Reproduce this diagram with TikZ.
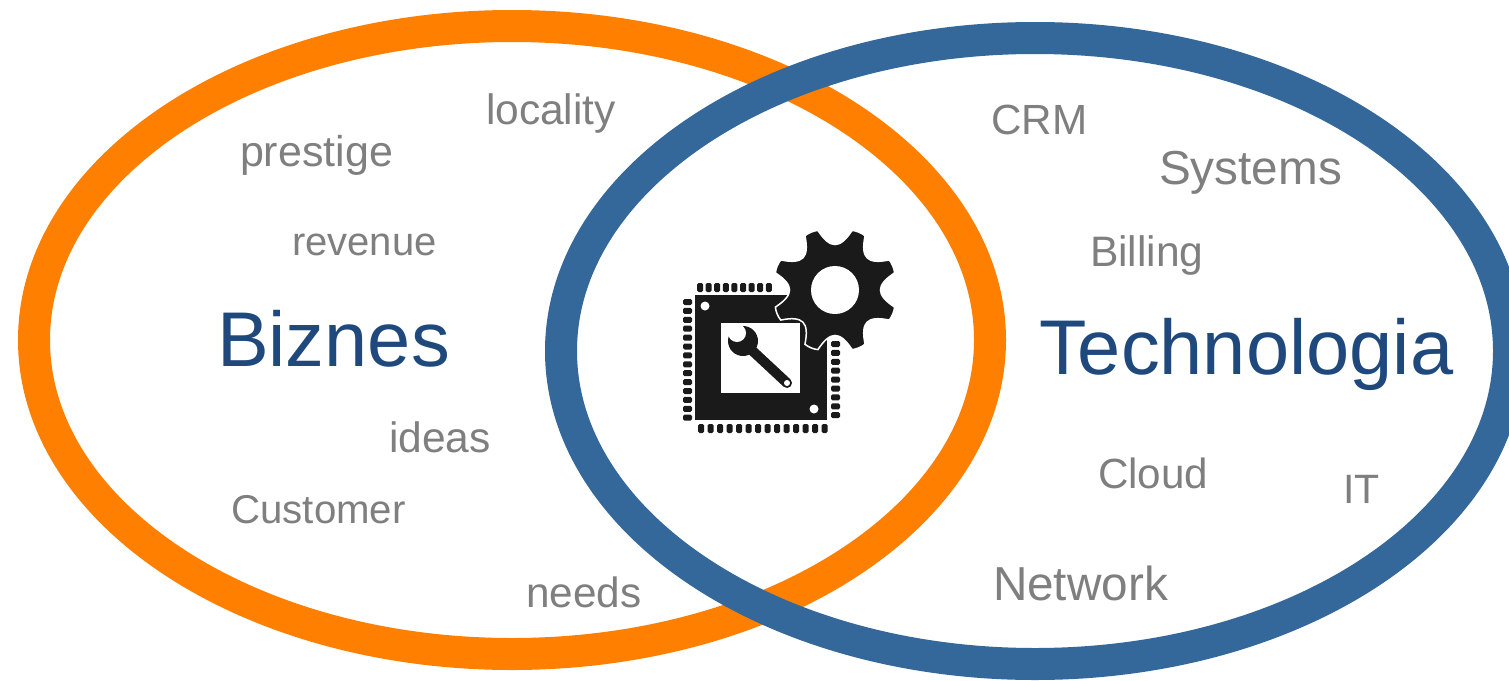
\documentclass[tikz,border=0pt]{standalone}
\usepackage{fontspec}
\setmainfont{Liberation Sans}
\definecolor{orangering}{HTML}{FF8000}
\definecolor{bluering}{HTML}{34679A}
\definecolor{titleblue}{HTML}{1F497D}
\definecolor{wordgray}{HTML}{7F7F7F}
\definecolor{iconblack}{HTML}{1A1A1A}
\tikzset{
  ring/.style={draw=#1,line width=32pt,fill=none},
  word/.style={anchor=base west,inner sep=0pt,outer sep=0pt,text=wordgray,font=\fontsize{#1}{#1}\selectfont},
  title/.style={anchor=base west,inner sep=0pt,outer sep=0pt,text=titleblue,font=\fontsize{77.6}{77.6}\selectfont},
  pin/.style={fill=iconblack,rounded corners=1.5pt}
}
\begin{document}
\begin{tikzpicture}[x=1pt,y=-1pt]
\useasboundingbox (0,0) rectangle (1509,680);
\clip (0,0) rectangle (1509,680);
\fill[white] (0,0) rectangle (1509,680);
\draw[ring=orangering] (512,340) ellipse [x radius=478,y radius=314];
\draw[ring=bluering] (1035,351) ellipse [x radius=474,y radius=313];
% words
\node[word=43] (prestige) at (240,166.5) {prestige};
\node[word=42.5] (locality) at (486,124.5) {locality};
\node[word=40] (revenue) at (292,255) {revenue};
\node[word=42.5] (ideas) at (389,452) {ideas};
\node[word=40.2] (customer) at (231.5,523) {Customer};
\node[word=42.3] (needs) at (526,607) {needs};
\node[word=42.2] (crm) at (991.5,134) {CRM};
\node[word=47.7] (systems) at (1159,184.5) {Systems};
\node[word=42.6] (billing) at (1090,266.5) {Billing};
\node[word=42.2] (cloud) at (1098,488) {Cloud};
\node[word=41] (it) at (1343,503) {IT};
\node[word=47.7] (network) at (993,600) {Network};
\node[title] (biznes) at (217,366) {Biznes};
\node[title] (technologia) at (1039,374) {Technologia};
% chip icon
\fill[iconblack] (695,295) rectangle (827,420);
\fill[white] (721,323) rectangle (800,393);
\fill[white] (705,306) circle (4.5);
\fill[white] (814,409) circle (4.5);
\foreach \i in {0,...,8} \fill[pin] ({700+\i*8.6-3},283) rectangle ++(6,9);
\foreach \i in {0,...,13} \fill[pin] ({701+\i*9.5-3},424) rectangle ++(6,9);
\foreach \i in {0,...,13} \fill[pin] (683,{302+\i*8.9-3}) rectangle ++(9,6);
\foreach \i in {0,...,8} \fill[pin] (831,{344+\i*8.9-3}) rectangle ++(9,6);
% wrench
\draw[iconblack,line width=10pt,line cap=round] (743,342) -- (787,383);
\fill[iconblack] (743,341) circle (15);
\fill[white] (737,333) circle (9);
\fill[white] (737,333) -- (722,331) -- (733,323) -- cycle;
\fill[white] (787,383) circle (3);
% gear
\begin{scope}[shift={(835,290)}]
\draw[fill=iconblack,draw=white,line width=1.5pt]
  (16:62) \foreach \a in {22.5,67.5,...,337.5} {
    .. controls (\a-3:63) and (\a+3:63) .. (\a+6.5:62)
    .. controls (\a+16:41) and (\a+29:41) .. (\a+38.5:62)
  } -- cycle;
\fill[white] (0,0) circle (24);
\end{scope}
\end{tikzpicture}
\end{document}
